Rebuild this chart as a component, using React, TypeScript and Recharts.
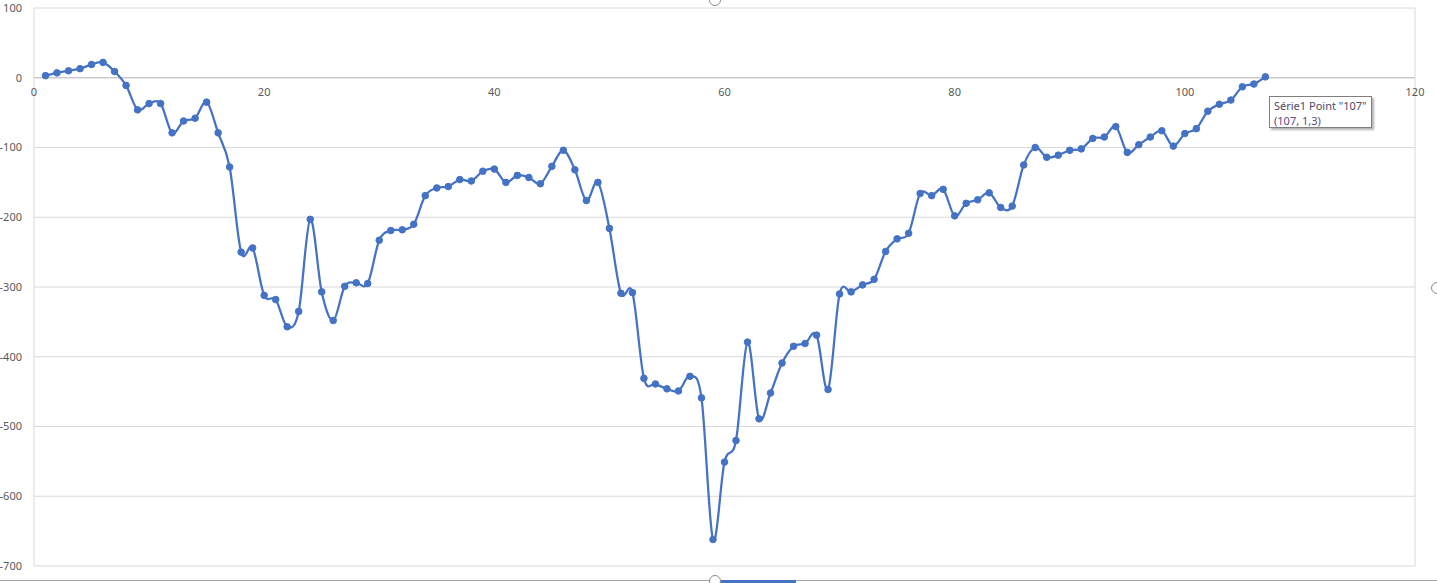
import React from 'react';
import { LineChart, Line, XAxis, YAxis, CartesianGrid, ReferenceLine, ReferenceDot } from 'recharts';

// Série1, points 1..107
const serie1: number[] = [
  3, 7, 10, 13, 19, 22, 9, -11, -46, -37,
  -37, -79, -62, -58, -35, -79, -128, -250, -244, -312,
  -318, -357, -335, -203, -307, -348, -299, -294, -295, -233,
  -219, -218, -210, -169, -158, -156, -146, -148, -134, -131,
  -150, -140, -143, -152, -127, -104, -132, -176, -150, -216,
  -309, -308, -431, -439, -446, -449, -428, -459, -662, -551,
  -520, -379, -489, -452, -409, -385, -381, -369, -447, -310,
  -307, -297, -289, -249, -231, -223, -166, -169, -160, -198,
  -180, -175, -165, -186, -184, -125, -100, -114, -111, -104,
  -102, -87, -85, -70, -107, -96, -85, -76, -98, -80,
  -73, -48, -38, -32, -13, -9, 1.3,
];

const xTicks = [0, 20, 40, 60, 80, 100, 120];
const yTicks = [-700, -600, -500, -400, -300, -200, -100, 0, 100];

const data = serie1.map((v, i) => ({ x: i + 1, y: v }));

// excel-like smoothed line (catmull-rom style bezier)
const excelSmooth = (context: any) => {
  let pts: number[][] = [];
  return {
    areaStart() {},
    areaEnd() {},
    lineStart() {
      pts = [];
    },
    point(x: number, y: number) {
      pts.push([+x, +y]);
    },
    lineEnd() {
      const n = pts.length;
      if (!n) return;
      context.moveTo(pts[0][0], pts[0][1]);
      for (let i = 0; i < n - 1; i++) {
        const p0 = pts[Math.max(i - 1, 0)];
        const p1 = pts[i];
        const p2 = pts[i + 1];
        const p3 = pts[Math.min(i + 2, n - 1)];
        context.bezierCurveTo(
          p1[0] + (p2[0] - p0[0]) / 6,
          p1[1] + (p2[1] - p0[1]) / 6,
          p2[0] - (p3[0] - p1[0]) / 6,
          p2[1] - (p3[1] - p1[1]) / 6,
          p2[0],
          p2[1]
        );
      }
    },
  };
};

const FONT = '"Segoe UI", "Noto Sans", "Open Sans", sans-serif';

export default function App() {
  return (
    <div style={{ position: 'absolute', left: 0, top: 0, width: 1437, height: 583, background: '#fff', fontFamily: FONT }}>
      <LineChart width={1437} height={583} data={data} margin={{ top: 8, right: 22, bottom: 17, left: 4 }}>
        <CartesianGrid stroke="#d9d9d9" strokeWidth={1} />
        <XAxis
          dataKey="x"
          type="number"
          domain={[0, 120]}
          ticks={xTicks}
          tick={false}
          tickLine={false}
          axisLine={false}
          height={0}
        />
        <YAxis
          type="number"
          domain={[-700, 100]}
          ticks={yTicks}
          width={30}
          tickLine={false}
          axisLine={false}
          tickSize={6}
          tickMargin={6}
          interval={0}
          tick={{ fill: '#595959', fontSize: 11, fontFamily: FONT }}
        />
        <ReferenceLine y={0} stroke="#bfbfbf" strokeWidth={1} />
        {xTicks.map((t) => (
          <ReferenceDot
            key={t}
            x={t}
            y={0}
            r={0}
            fill="none"
            stroke="none"
            label={{ value: String(t), position: 'bottom', offset: 10, fill: '#595959', fontSize: 11, fontFamily: FONT }}
          />
        ))}
        <Line
          dataKey="y"
          type={excelSmooth as any}
          stroke="#4472C4"
          strokeWidth={2.25}
          dot={{ r: 3.3, fill: '#4472C4', stroke: '#4472C4', strokeWidth: 1 }}
          activeDot={false}
          isAnimationActive={false}
        />
      </LineChart>

      {/* data point tooltip, as Excel shows it */}
      <div
        style={{
          position: 'absolute',
          left: 1269,
          top: 96,
          width: 103,
          height: 32,
          border: '1px solid #7f7f7f',
          background: '#fff',
          boxShadow: '2px 2px 2px rgba(0,0,0,0.3)',
          fontSize: 11,
          lineHeight: '15px',
          padding: '1px 0 0 4px',
          boxSizing: 'border-box',
          whiteSpace: 'nowrap',
        }}
      >
        <div style={{ color: '#4f4a66' }}>Série1 Point "107"</div>
        <div style={{ color: '#5a4a86' }}>(107, 1,3)</div>
      </div>

      {/* chart area frame / selection handles */}
      <div style={{ position: 'absolute', left: 0, top: 580, width: 1437, height: 1, background: '#a6a6a6' }} />
      <div style={{ position: 'absolute', left: 720, top: 580, width: 76, height: 3, background: '#4472C4' }} />
      <div style={{ position: 'absolute', left: 709, top: 575, width: 10, height: 10, borderRadius: '50%', border: '1px solid #8c8c8c', background: '#fff' }} />
      <div style={{ position: 'absolute', left: 709, top: -6, width: 10, height: 10, borderRadius: '50%', border: '1px solid #8c8c8c', background: '#fff' }} />
      <div style={{ position: 'absolute', left: 1431, top: 282, width: 10, height: 10, borderRadius: '50%', border: '1px solid #8c8c8c', background: '#fff' }} />
    </div>
  );
}
